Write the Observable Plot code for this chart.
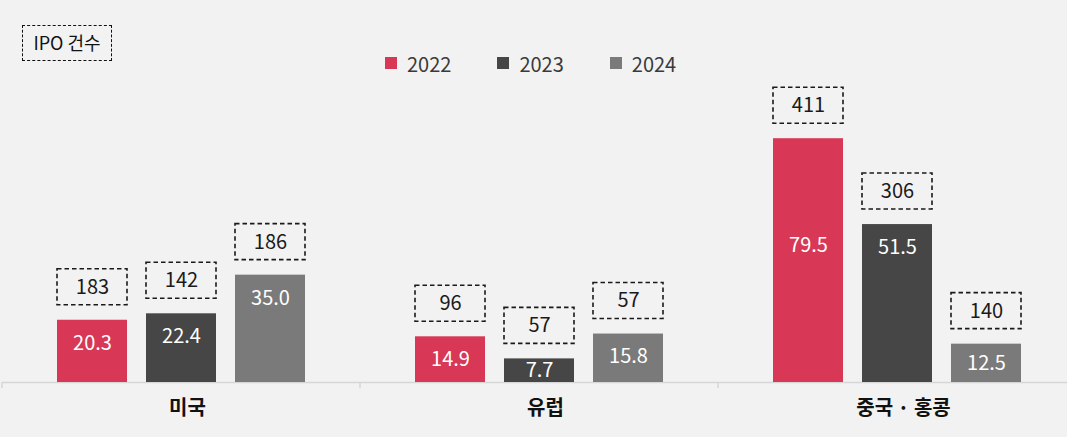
<!DOCTYPE html>
<html><head><meta charset="utf-8">
<script src="https://cdn.jsdelivr.net/npm/d3@7"></script>
<script src="https://cdn.jsdelivr.net/npm/@observablehq/plot@0.6"></script>
<style>
html,body{margin:0;padding:0;background:#f2f2f2;}
#wrap{position:relative;width:1067px;height:437px;overflow:hidden;font-family:"Noto Sans CJK KR","Noto Sans",sans-serif;}
#head{position:relative;height:88px;}
#ipo{position:absolute;left:22px;top:25px;width:90px;height:36px;box-sizing:border-box;border:1.6px dashed #111;font-size:18px;line-height:32px;text-align:center;color:#111;}
#legend{position:absolute;left:385px;top:50px;display:flex;align-items:center;height:26px;}
.item{display:flex;align-items:center;margin-right:46px;}
.sw{width:12px;height:12px;margin-right:10px;}
.lb{font-size:20px;color:#3a3a3a;}
#chart svg{display:block;overflow:visible;}
</style></head>
<body>
<div id="wrap">
  <div id="head"><div id="ipo">IPO 건수</div><div id="legend"></div></div>
  <div id="chart"></div>
</div>
<script>
const regions = ["미국", "유럽", "중국 · 홍콩"];
const years = ["2022", "2023", "2024"];
const colors = ["#d83756", "#464646", "#7a7a7a"];
// funds raised (bar heights)
const amount2022 = [20.3, 14.9, 79.5];
const amount2023 = [22.4, 7.7, 51.5];
const amount2024 = [35.0, 15.8, 12.5];
// IPO counts (boxed labels)
const ipo2022 = [183, 96, 411];
const ipo2023 = [142, 57, 306];
const ipo2024 = [186, 57, 140];

const amounts = [amount2022, amount2023, amount2024];
const ipos = [ipo2022, ipo2023, ipo2024];
const data = [];
regions.forEach((r, i) => years.forEach((y, j) => data.push({region: r, year: y, amount: amounts[j][i], ipo: ipos[j][i]})));

// legend
const leg = document.getElementById("legend");
years.forEach((y, j) => {
  const it = document.createElement("div"); it.className = "item";
  const sw = document.createElement("div"); sw.className = "sw"; sw.style.background = colors[j];
  const lb = document.createElement("div"); lb.className = "lb"; lb.textContent = y;
  it.appendChild(sw); it.appendChild(lb); leg.appendChild(it);
});

const font = '"Noto Sans CJK KR","Noto Sans",sans-serif';
const chart = Plot.plot({
  width: 1067, height: 349,
  marginLeft: 1, marginRight: -9, marginTop: 18, marginBottom: 55,
  style: {background: "transparent", fontFamily: font, color: "#111", overflow: "visible"},
  fx: {domain: regions, padding: 0, label: null},
  x: {domain: years, paddingInner: 0.211, paddingOuter: 0.597, axis: null},
  y: {domain: [0, 90], axis: null},
  color: {domain: years, range: colors},
  marks: [
    Plot.ruleY([0], {stroke: "#d6d6d6", strokeWidth: 1.5}),
    Plot.barY(data, {fx: "region", x: "year", y: "amount", fill: "year"}),
    Plot.barY(data, {fx: "region", x: "year", y1: "amount", y2: "amount", insetTop: -51, insetBottom: 15,
      fill: "none", stroke: "#1a1a1a", strokeWidth: 1.6, strokeDasharray: "4.5,3"}),
    Plot.text(data, {fx: "region", x: "year", y: "amount", dy: -33, text: d => String(d.ipo), fontSize: 20, fill: "#1a1a1a"}),
    Plot.text(data, {fx: "region", x: "year", y: d => Math.max(d.amount / 2, Math.min(d.amount, 52) - 7.5),
      text: d => d.amount.toFixed(1), fontSize: 20, fill: "white"}),
    Plot.axisFx({anchor: "bottom", tickSize: 0, tickPadding: 18, dx: 6, fontSize: 20, fontWeight: "bold", label: null})
  ]
});
document.getElementById("chart").appendChild(chart);

// small separator ticks at group boundaries on the baseline
const fxs = chart.scale("fx");
const yv = chart.scale("y").apply(0);
const edges = regions.map(r => fxs.apply(r)).concat([fxs.apply(regions[regions.length - 1]) + fxs.bandwidth]);
d3.select(chart).append("g").selectAll("line").data(edges).join("line")
  .attr("x1", d => d).attr("x2", d => d).attr("y1", yv).attr("y2", yv + 6)
  .attr("stroke", "#d6d6d6").attr("stroke-width", 1.5);
</script>
</body></html>
